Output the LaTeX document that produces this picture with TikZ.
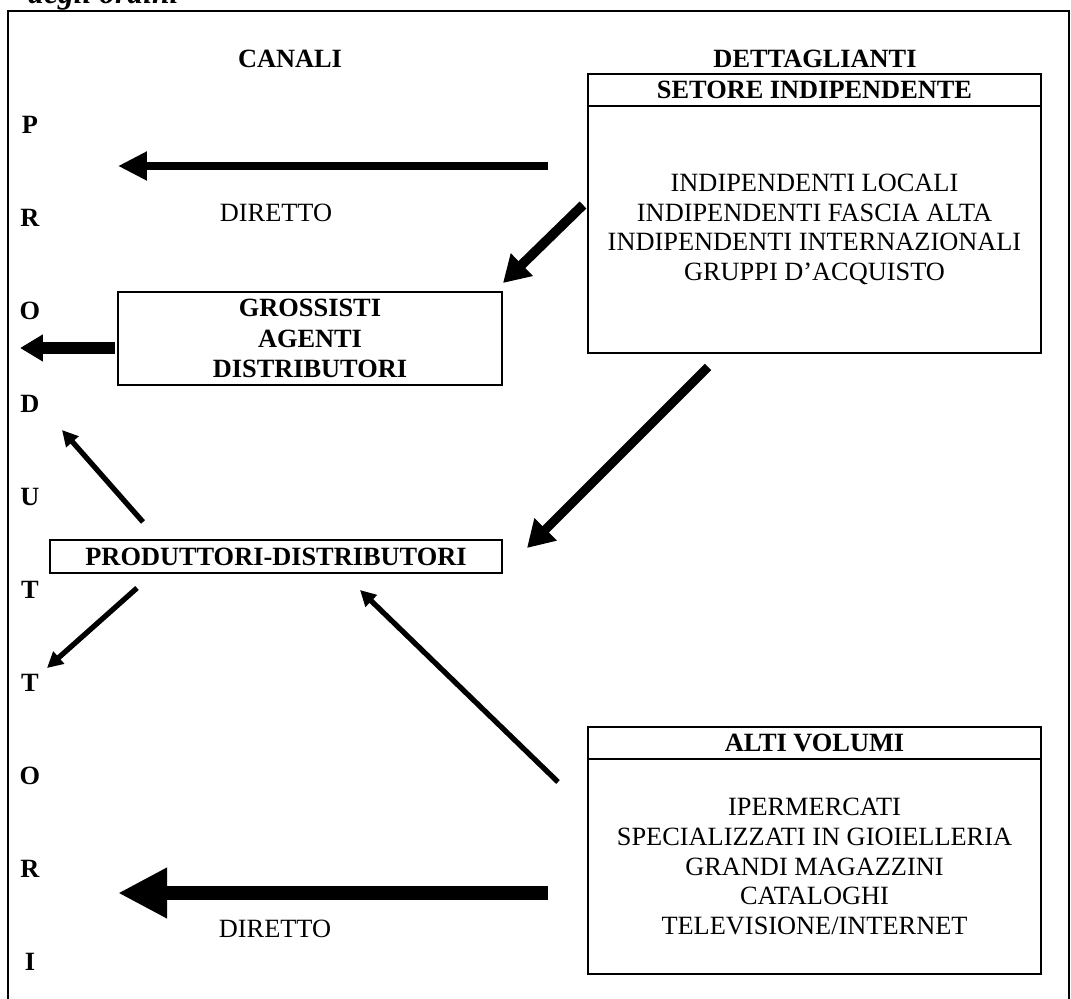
\documentclass[tikz,border=0pt]{standalone}
\usepackage{fontspec}
\setmainfont{Liberation Serif}
\usetikzlibrary{positioning,arrows.meta}

\begin{document}
\begin{tikzpicture}[x=0.02cm,y=-0.02cm,
  every node/.style={font=\fontsize{15}{17}\selectfont},
  lab/.style={font=\fontsize{15}{17}\selectfont\bfseries},
  scatola/.style={draw,line width=1.2pt,inner sep=0pt,outer sep=0pt,align=center},
  intesta/.style={scatola,minimum width=9.06cm,minimum height=0.64cm,font=\fontsize{15}{17}\selectfont\bfseries},
  corpo/.style={scatola,minimum width=9.06cm},
  grossa/.style={line width=8.5pt,-{Triangle[length=28pt,width=27pt]}},
  media/.style={line width=4.5pt,-{Triangle[length=16.5pt,width=15.5pt]}},
  obliqua/.style={line width=5.5pt,-{Triangle[length=15pt,width=17pt]}},
  sottile/.style={line width=3pt,-{Triangle[length=9pt,width=9pt]}}]
\useasboundingbox (0,0) rectangle (1071,999);
\draw[line width=1.2pt] (8,11) rectangle (1069,1030);
\node[anchor=base west,font=\fontsize{18}{20}\selectfont\bfseries\itshape] (titolo) at (22,4) {degli ordini};

% colonna PRODUTTORI
\foreach \l [count=\i] in {P,R,O,D,U,T,T,O,R,I}
  \node[lab] (l\i) at (30,32+93*\i) {\l};

\node[lab] (canali) at (290,59) {CANALI};
\node[lab] (dett) at (815,59) {DETTAGLIANTI};

% dettaglianti
\node[intesta] (setore) at (814.5,90) {SETORE INDIPENDENTE};
\node[corpo,minimum height=4.94cm,below=0pt of setore] (indip)
  {INDIPENDENTI LOCALI\\INDIPENDENTI FASCIA ALTA\\INDIPENDENTI INTERNAZIONALI\\GRUPPI D'ACQUISTO};
\node[intesta] (alti) at (814.5,743) {ALTI VOLUMI};
\node[corpo,minimum height=4.3cm,below=0pt of alti] (volumi)
  {IPERMERCATI\\SPECIALIZZATI IN GIOIELLERIA\\GRANDI MAGAZZINI\\CATALOGHI\\TELEVISIONE/INTERNET};

% canali
\node[scatola,minimum width=7.68cm,minimum height=1.86cm,font=\fontsize{15}{17.5}\selectfont\bfseries] (grossisti) at (310,338.5)
  {GROSSISTI\\AGENTI\\DISTRIBUTORI};
\node[scatola,minimum width=9.04cm,minimum height=0.66cm,font=\fontsize{15}{17}\selectfont\bfseries] (prod) at (276,556.5)
  {PRODUTTORI-DISTRIBUTORI};
\node (dir1) at (276,213) {DIRETTO};
\node (dir2) at (275,929) {DIRETTO};

% estremi delle frecce
\coordinate (a1) at (548,166);  \coordinate (b1) at (118,166);
\coordinate (a2) at (115,348);  \coordinate (b2) at (20,348);
\coordinate (a3) at (583,205);  \coordinate (b3) at (503,283);
\coordinate (a4) at (708,367);  \coordinate (b4) at (527,548);
\coordinate (a5) at (143,522);  \coordinate (b5) at (62,430);
\coordinate (a6) at (137,588);  \coordinate (b6) at (47,668);
\coordinate (a7) at (558,782);  \coordinate (b7) at (360,590);
\coordinate (a8) at (548,893);  \coordinate (b8) at (118,893);

\draw[media] (a1) -- (b1);
\draw[line width=6.3pt,-{Triangle[length=13pt,width=14.5pt]}] (a2) -- (b2);
\draw[obliqua] (a3) -- (b3);
\draw[obliqua,line width=5.2pt] (a4) -- (b4);
\draw[sottile] (a5) -- (b5);
\draw[sottile] (a6) -- (b6);
\draw[sottile] (a7) -- (b7);
\draw[grossa] (a8) -- (b8);
\end{tikzpicture}
\end{document}
